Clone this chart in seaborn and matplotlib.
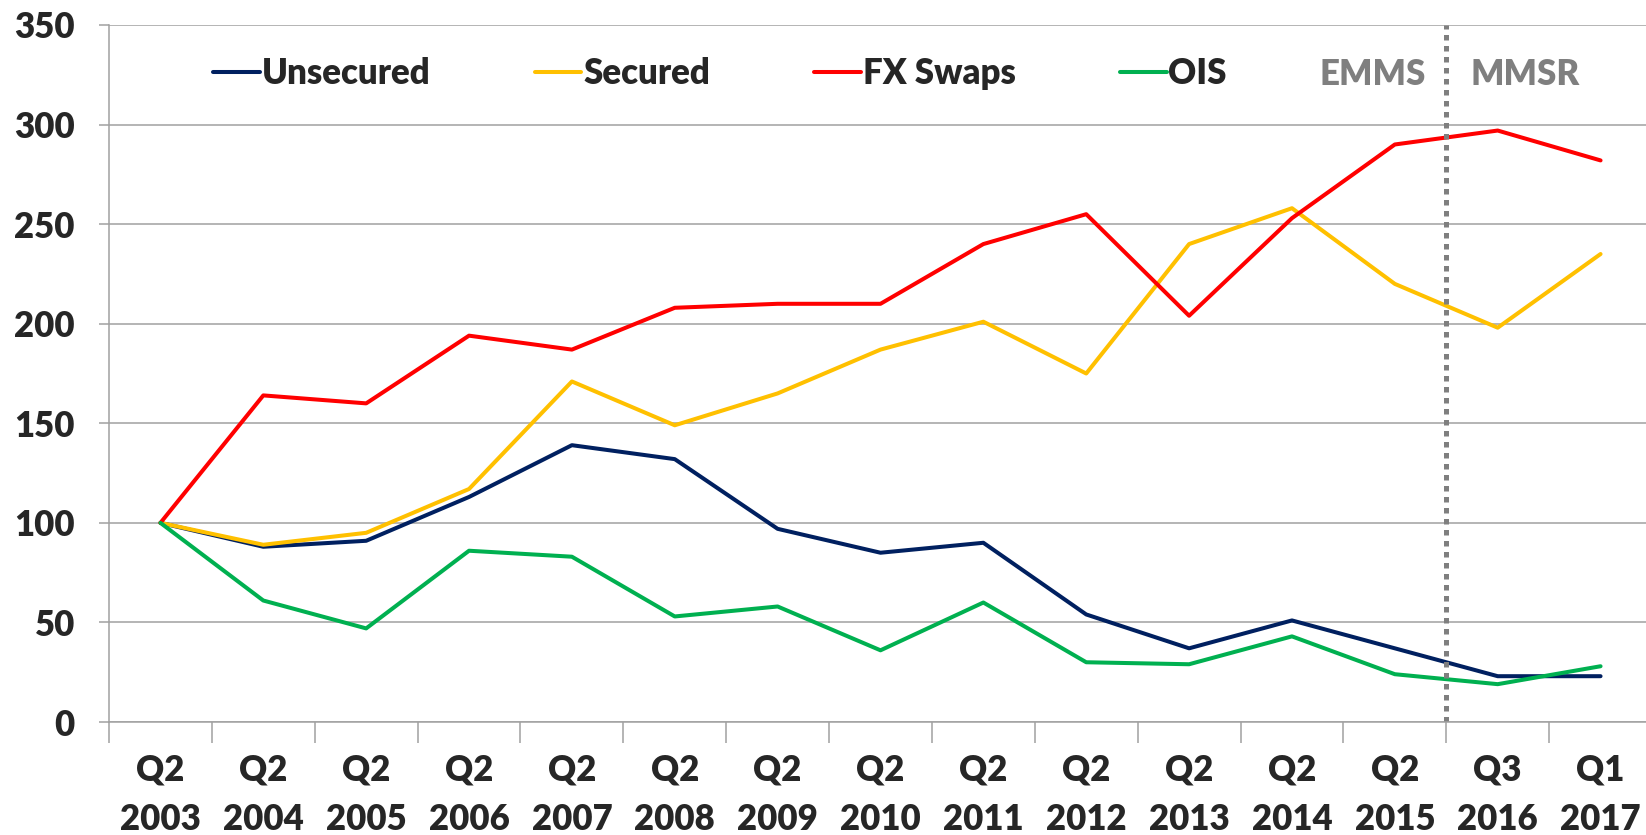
import seaborn as sns
import matplotlib.pyplot as plt
import pandas as pd
import numpy as np

# chart data
periods = ["Q2\n2003", "Q2\n2004", "Q2\n2005", "Q2\n2006", "Q2\n2007", "Q2\n2008",
           "Q2\n2009", "Q2\n2010", "Q2\n2011", "Q2\n2012", "Q2\n2013", "Q2\n2014",
           "Q2\n2015", "Q3\n2016", "Q1\n2017"]
unsecured = [100, 88, 91, 113, 139, 132, 97, 85, 90, 54, 37, 51, 37, 23, 23]
secured = [100, 89, 95, 117, 171, 149, 165, 187, 201, 175, 240, 258, 220, 198, 235]
fx_swaps = [100, 164, 160, 194, 187, 208, 210, 210, 240, 255, 204, 253, 290, 297, 282]
ois = [100, 61, 47, 86, 83, 53, 58, 36, 60, 30, 29, 43, 24, 19, 28]

series_names = ["Unsecured", "Secured", "FX Swaps", "OIS"]
series_colors = ["#002060", "#FFC000", "#FF0000", "#00B050"]
regime_labels = ["EMMS", "MMSR"]

df = pd.DataFrame({"period": periods * 4,
                   "value": unsecured + secured + fx_swaps + ois,
                   "series": np.repeat(series_names, len(periods))})

sns.set_theme(style="white")
plt.rcParams["font.family"] = ["Lato", "DejaVu Sans"]
plt.rcParams["font.weight"] = "bold"

fs = 25
fig = plt.figure(figsize=(16.46, 8.35), dpi=100)
ax = fig.add_axes([109 / 1646, 1 - 722 / 835, 1543 / 1646, 697 / 835])

sns.lineplot(data=df, x="period", y="value", hue="series", hue_order=series_names,
             palette=series_colors, linewidth=2.9, ax=ax, sort=False)

ax.set_xlim(-0.5, 14.5)
ax.set_ylim(0, 350)
ax.set_yticks(range(0, 351, 50))
ax.set_xlabel("")
ax.set_ylabel("")

grey = "#A0A0A0"
ax.grid(axis="y", color=grey, linewidth=1.1)
ax.set_axisbelow(True)
for s in ["top", "right"]:
    ax.spines[s].set_visible(False)
for s in ["left", "bottom"]:
    ax.spines[s].set_color(grey)
    ax.spines[s].set_linewidth(1.1)

# category labels in the middle, tick marks at the boundaries
ax.set_xticks(range(len(periods)))
ax.set_xticklabels(periods, linespacing=1.6)
ax.set_xticks(np.arange(-0.5, len(periods), 1), minor=True)
ax.tick_params(axis="x", which="major", length=0, pad=23, labelsize=fs)
ax.tick_params(axis="x", which="minor", length=15, width=1.1, color=grey, bottom=True)
ax.tick_params(axis="y", length=7.5, width=1.1, color=grey, pad=17, labelsize=fs, left=True)
for lab in ax.get_xticklabels() + ax.get_yticklabels():
    lab.set_fontweight("heavy")

# switch of data source
ax.vlines(12.5, 0, 350, color="#7F7F7F", linewidth=3.6, linestyle=(0, (1.1, 1.1)))
ax.text(12.3, 325, regime_labels[0], ha="right", va="center", fontsize=fs,
        fontweight="heavy", color="#7F7F7F")
ax.text(12.74, 325, regime_labels[1], ha="left", va="center", fontsize=fs,
        fontweight="heavy", color="#7F7F7F")

ax.legend(ncol=4, frameon=False, loc="center left",
          bbox_to_anchor=(213 / 1646, 1 - 74 / 835), bbox_transform=fig.transFigure,
          borderpad=0, borderaxespad=0, handlelength=1.35, handletextpad=0.05,
          columnspacing=3.0, prop={"size": fs, "weight": "heavy"})

fig.savefig("out.png", dpi=100)
